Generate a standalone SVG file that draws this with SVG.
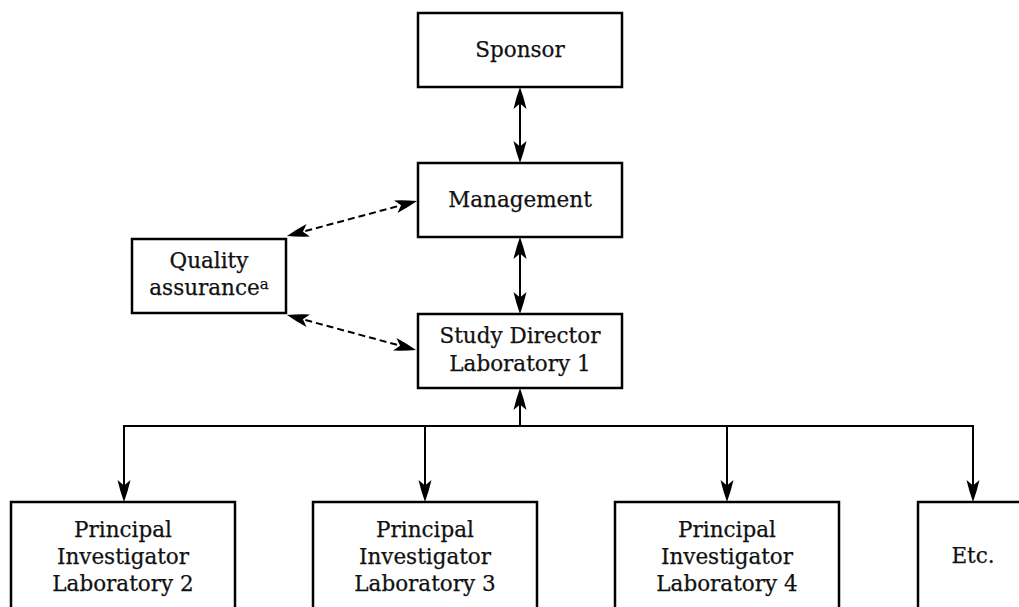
<svg xmlns="http://www.w3.org/2000/svg" width="1019" height="607" viewBox="0 0 1019 607">
  <style>
    .box { fill: #fff; stroke: #000; stroke-width: 2.5; }
    .lbl { font-family: "DejaVu Serif", "Liberation Serif", serif; font-size: 21.5px; fill: #111; stroke: #111; stroke-width: 0.25; text-anchor: middle; }
    .sup { font-size: 15px; }
    .wire { fill: none; stroke: #000; stroke-width: 2; }
    .dash { stroke-dasharray: 7 4; }
  </style>
  <defs>
    <!-- stealth-style arrowhead; tip sits 8px beyond the end of the line -->
    <marker id="head" markerUnits="userSpaceOnUse" markerWidth="26" markerHeight="16" viewBox="0 0 26 16" refX="16" refY="8" orient="auto-start-reverse">
      <path d="M24,8 Q13.5,4.2 2,1.5 L7.5,8 L2,14.5 Q13.5,11.8 24,8 Z" fill="#000"/>
    </marker>
  </defs>

  <g id="connectors">
    <!-- Sponsor <-> Management -->
    <line class="wire" x1="520" y1="95" x2="520" y2="155" marker-start="url(#head)" marker-end="url(#head)"/>
    <!-- Management <-> Study Director -->
    <line class="wire" x1="520" y1="245" x2="520" y2="306" marker-start="url(#head)" marker-end="url(#head)"/>
    <!-- Quality assurance <-> Management / Study Director -->
    <line class="wire dash" x1="294.7" y1="233.9" x2="409.3" y2="203.1" marker-start="url(#head)" marker-end="url(#head)"/>
    <line class="wire dash" x1="294.7" y1="317.1" x2="408.3" y2="347.9" marker-start="url(#head)" marker-end="url(#head)"/>
    <!-- distribution bus to the principal investigators -->
    <polyline class="wire" points="124,494 124,426 973,426 973,494" marker-end="url(#head)"/>
    <line class="wire" x1="124" y1="426" x2="124" y2="494" marker-end="url(#head)"/>
    <line class="wire" x1="425" y1="426" x2="425" y2="494" marker-end="url(#head)"/>
    <line class="wire" x1="727" y1="426" x2="727" y2="494" marker-end="url(#head)"/>
    <line class="wire" x1="520" y1="426" x2="520" y2="396" marker-end="url(#head)"/>
  </g>

  <g id="sponsor">
    <rect class="box" x="418" y="13" width="204" height="74"/>
    <text class="lbl" x="520" y="57">Sponsor</text>
  </g>

  <g id="management">
    <rect class="box" x="418" y="163" width="204" height="74"/>
    <text class="lbl" x="520" y="207">Management</text>
  </g>

  <g id="quality-assurance">
    <rect class="box" x="132" y="239" width="154" height="74"/>
    <text class="lbl" x="209" y="268">Quality</text>
    <text class="lbl" x="209" y="295">assurance<tspan class="sup" dy="-6">a</tspan></text>
  </g>

  <g id="study-director">
    <rect class="box" x="418" y="314" width="204" height="74"/>
    <text class="lbl" x="520" y="343">Study Director</text>
    <text class="lbl" x="520" y="371">Laboratory 1</text>
  </g>

  <g id="pi-lab2">
    <rect class="box" x="11" y="502" width="224" height="120"/>
    <text class="lbl" x="123" y="537">Principal</text>
    <text class="lbl" x="123" y="564">Investigator</text>
    <text class="lbl" x="123" y="591">Laboratory 2</text>
  </g>

  <g id="pi-lab3">
    <rect class="box" x="313" y="502" width="224" height="120"/>
    <text class="lbl" x="425" y="537">Principal</text>
    <text class="lbl" x="425" y="564">Investigator</text>
    <text class="lbl" x="425" y="591">Laboratory 3</text>
  </g>

  <g id="pi-lab4">
    <rect class="box" x="615" y="502" width="224" height="120"/>
    <text class="lbl" x="727" y="537">Principal</text>
    <text class="lbl" x="727" y="564">Investigator</text>
    <text class="lbl" x="727" y="591">Laboratory 4</text>
  </g>

  <g id="etc">
    <rect class="box" x="918" y="502" width="224" height="120"/>
    <text class="lbl" x="973" y="563">Etc.</text>
  </g>
</svg>
